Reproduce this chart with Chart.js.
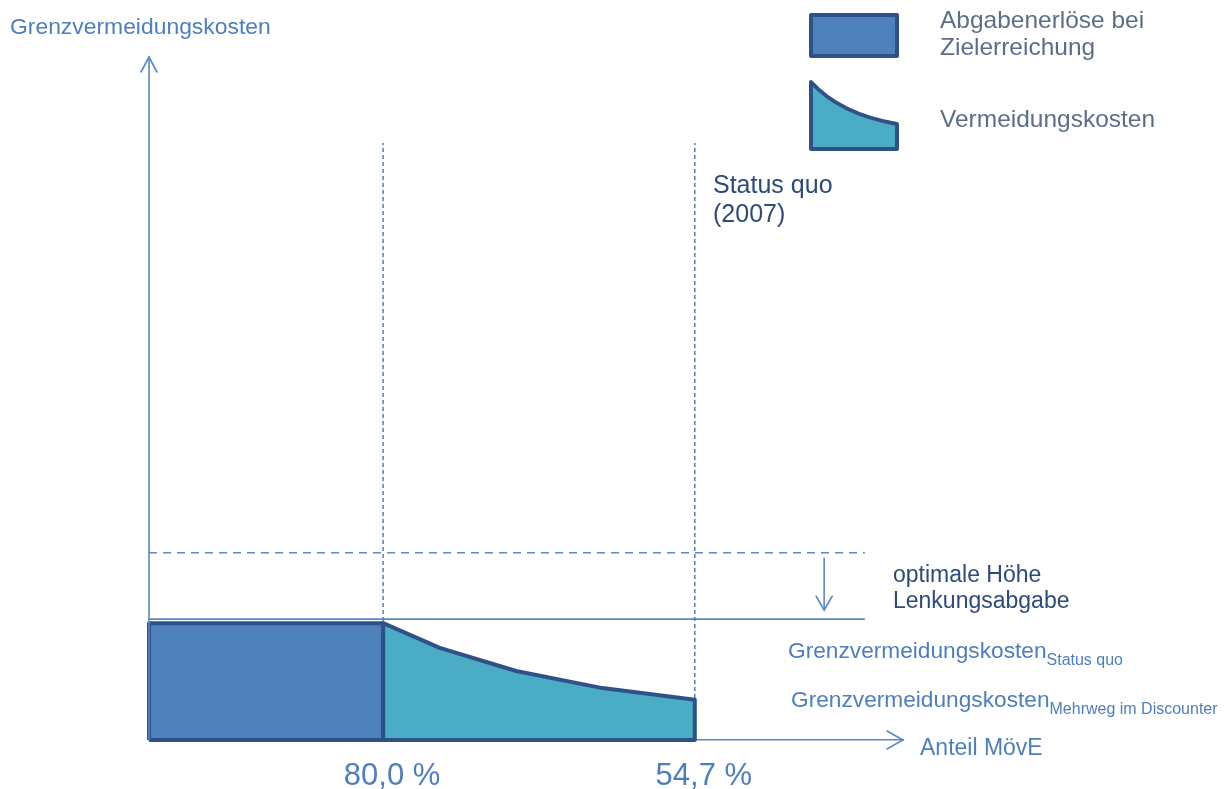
<!DOCTYPE html>
<html>
<head>
<meta charset="utf-8">
<script src="https://cdn.jsdelivr.net/npm/chart.js@4"></script>
<style>
  html, body { margin: 0; padding: 0; background: #fff; }
  #wrap { width: 1227px; height: 789px; }
</style>
</head>
<body>
<div id="wrap"><canvas id="myChart" width="1227" height="789"></canvas></div>
<script>
// x = Anteil MövE (%), y = Grenzvermeidungskosten (schematic units 0..100)
var shareTicks = [80.0, 54.7];
var shareMin = 37.8, shareMax = 99;
var targetShare = 80.0, statusQuoShare = 54.7;
var abgabeLevel = 17.1;                      // Abgabenerlöse (rectangle height)
var curveShares = [80.0, 75.4, 69.2, 62.2, 54.7];
var curveCosts  = [17.1, 13.5, 10.1, 7.6, 5.9];
var optimalLevel = 27.4;                     // dashed line
var statusQuoLevel = 17.7;                   // solid line
var dashTop = 87.4;
var guideEnd = 40.9;
var arrowShare = 44.2, arrowFrom = 26.6, arrowTo = 19.0;

var axisBlue = '#5a87c6';
var darkEdge = '#2e5288';
var labelBlue = '#4d7ebf';
var darkText = '#2c4a7a';

function pts(xs, ys) {
    return xs.map(function (x, i) { return { x: x, y: ys[i] }; });
}

// filled areas (monotonic x, filled down to 0)
var rectFill = [{ x: shareMax, y: abgabeLevel }, { x: targetShare, y: abgabeLevel }];
var curveFill = pts(curveShares, curveCosts);
// outlines (closed shapes)
var rectOutline = [{ x: shareMax, y: 0 }].concat(rectFill).concat([{ x: targetShare, y: 0 }, { x: shareMax, y: 0 }]);
var curveOutline = [{ x: targetShare, y: 0 }].concat(curveFill)
    .concat([{ x: statusQuoShare, y: 0 }, { x: targetShare, y: 0 }]);

function txt(ctx, s, x, y, font, color, sx) {
    ctx.save();
    ctx.font = font;
    ctx.fillStyle = color;
    ctx.textBaseline = 'alphabetic';
    ctx.translate(x, y);
    ctx.scale(sx || 1, 1);
    ctx.fillText(s, 0, 0);
    var w = ctx.measureText(s).width * (sx || 1);
    ctx.restore();
    return w;
}

function arrowHead(ctx, tx, ty, dx, dy, len, half) {
    var nx = -dy, ny = dx;
    ctx.beginPath();
    ctx.moveTo(tx - dx * len + nx * half, ty - dy * len + ny * half);
    ctx.lineTo(tx, ty);
    ctx.lineTo(tx - dx * len - nx * half, ty - dy * len - ny * half);
    ctx.stroke();
}

var extras = {
    id: 'extras',
    afterDraw: function (chart) {
        var ctx = chart.ctx;
        var xs = chart.scales.x, ys = chart.scales.y;
        var x0 = xs.getPixelForValue(shareMax);
        var yb = ys.getPixelForValue(0);
        var yt = ys.getPixelForValue(100);

        ctx.save();
        ctx.strokeStyle = axisBlue;
        ctx.lineWidth = 1.6;
        ctx.lineCap = 'round';
        // y axis with arrow
        ctx.beginPath();
        ctx.moveTo(x0, yb);
        ctx.lineTo(x0, yt);
        ctx.stroke();
        arrowHead(ctx, x0, yt, 0, -1, 15, 8);
        // x axis arrow
        arrowHead(ctx, xs.getPixelForValue(shareMin), yb, 1, 0, 16, 9);
        // down arrow
        var ax = xs.getPixelForValue(arrowShare);
        var a1 = ys.getPixelForValue(arrowFrom), a2 = ys.getPixelForValue(arrowTo);
        ctx.beginPath();
        ctx.moveTo(ax, a1);
        ctx.lineTo(ax, a2);
        ctx.stroke();
        arrowHead(ctx, ax, a2, 0, 1, 14, 8);
        ctx.restore();

        var F = '"Liberation Sans", Arial, sans-serif';
        var w;
        txt(ctx, 'Grenzvermeidungskosten', 10, 34, '22px ' + F, labelBlue, 1.04);
        txt(ctx, 'Status quo', 713, 193, '25px ' + F, darkText, 1.0);
        txt(ctx, '(2007)', 713, 222, '25px ' + F, darkText, 1.0);
        txt(ctx, 'optimale Höhe', 893, 582, '23px ' + F, darkText, 1.0);
        txt(ctx, 'Lenkungsabgabe', 893, 608, '23px ' + F, darkText, 1.0);
        w = txt(ctx, 'Grenzvermeidungskosten', 788, 658, '22.7px ' + F, labelBlue, 1.0);
        txt(ctx, 'Status quo', 788 + w, 665, '16px ' + F, labelBlue, 1.0);
        w = txt(ctx, 'Grenzvermeidungskosten', 791, 707, '22.7px ' + F, labelBlue, 1.0);
        txt(ctx, 'Mehrweg im Discounter', 791 + w, 714, '16px ' + F, labelBlue, 1.0);
        txt(ctx, 'Anteil MövE', 920, 755, '23px ' + F, labelBlue, 1.0);

        // legend
        ctx.save();
        ctx.lineWidth = 4;
        ctx.lineJoin = 'round';
        ctx.strokeStyle = darkEdge;
        ctx.fillStyle = '#4f81bd';
        ctx.beginPath();
        ctx.rect(811, 15, 86, 41);
        ctx.fill();
        ctx.stroke();
        ctx.fillStyle = '#4bacc6';
        ctx.beginPath();
        ctx.moveTo(811, 82);
        ctx.quadraticCurveTo(840, 114, 897, 124);
        ctx.lineTo(897, 149);
        ctx.lineTo(811, 149);
        ctx.closePath();
        ctx.fill();
        ctx.stroke();
        ctx.restore();
        txt(ctx, 'Abgabenerlöse bei', 940, 28, '24px ' + F, '#5b6d8a', 1.02);
        txt(ctx, 'Zielerreichung', 940, 55, '24px ' + F, '#5b6d8a', 1.02);
        txt(ctx, 'Vermeidungskosten', 940, 127, '24px ' + F, '#5b6d8a', 1.02);
    }
};

function fillSet(data, color) {
    return {
        data: data, backgroundColor: color, borderColor: color, borderWidth: 0,
        fill: 'origin', pointRadius: 0, tension: 0, clip: false, order: 1
    };
}
function outlineSet(data) {
    return {
        data: data, borderColor: darkEdge, borderWidth: 4, borderJoinStyle: 'round',
        fill: false, pointRadius: 0, tension: 0, clip: false, order: 0
    };
}

var ctx = document.getElementById('myChart').getContext('2d');
var myChart = new Chart(ctx, {
    type: 'line',
    data: {
        datasets: [
            outlineSet(rectOutline),
            outlineSet(curveOutline),
            fillSet(rectFill, '#4f81bd'),
            fillSet(curveFill, '#4bacc6'),
            {
                data: [{ x: targetShare, y: 0 }, { x: targetShare, y: dashTop }],
                borderColor: '#4f7fbf', borderWidth: 1.5, borderDash: [4, 3],
                pointRadius: 0, fill: false, clip: false, order: 2
            },
            {
                data: [{ x: statusQuoShare, y: 0 }, { x: statusQuoShare, y: dashTop }],
                borderColor: '#4f7fbf', borderWidth: 1.5, borderDash: [4, 3],
                pointRadius: 0, fill: false, clip: false, order: 2
            },
            {
                data: [{ x: shareMax, y: optimalLevel }, { x: guideEnd, y: optimalLevel }],
                borderColor: axisBlue, borderWidth: 1.5, borderDash: [8, 6],
                pointRadius: 0, fill: false, clip: false, order: 2
            },
            {
                data: [{ x: shareMax, y: statusQuoLevel }, { x: guideEnd, y: statusQuoLevel }],
                borderColor: axisBlue, borderWidth: 1.6,
                pointRadius: 0, fill: false, clip: false, order: 2
            }
        ]
    },
    options: {
        responsive: false,
        animation: false,
        events: [],
        layout: { padding: { left: 149, right: 324, top: 57, bottom: 0 } },
        plugins: { legend: { display: false }, tooltip: { enabled: false } },
        scales: {
            x: {
                type: 'linear',
                reverse: true,
                min: shareMin,
                max: shareMax,
                grid: { display: false, drawTicks: false },
                border: { display: true, color: axisBlue, width: 1.6 },
                afterBuildTicks: function (axis) {
                    axis.ticks = shareTicks.map(function (v) { return { value: v }; });
                },
                afterFit: function (axis) { axis.height = 49; },
                ticks: {
                    autoSkip: false,
                    maxRotation: 0,
                    padding: 21,
                    labelOffset: 9,
                    color: labelBlue,
                    font: { family: '"Liberation Sans", Arial, sans-serif', size: 31, lineHeight: 1.0 },
                    callback: function (v) { return v.toFixed(1).replace('.', ',') + ' %'; }
                }
            },
            y: {
                display: false,
                min: 0,
                max: 100
            }
        }
    },
    plugins: [extras]
});
</script>
</body>
</html>
